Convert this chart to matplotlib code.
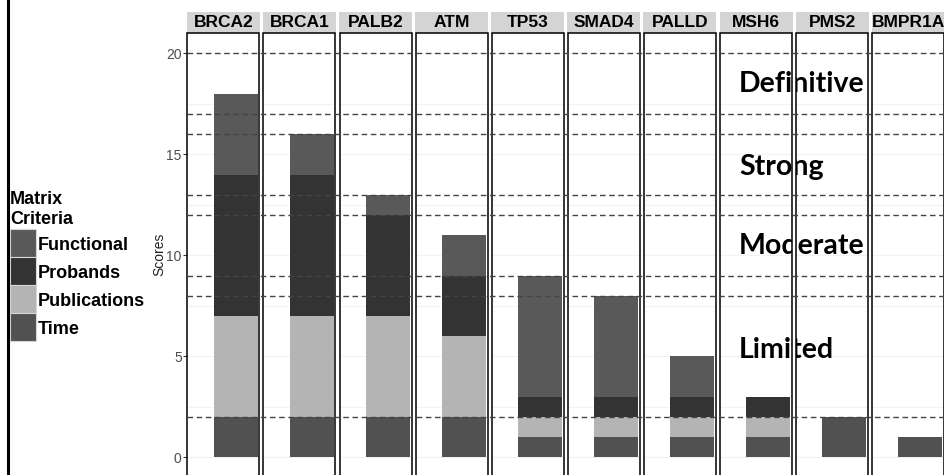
import matplotlib
matplotlib.use("Agg")
import matplotlib.pyplot as plt
from matplotlib.patches import Rectangle
from matplotlib.lines import Line2D
from matplotlib.transforms import blended_transform_factory
import numpy as np

# gene panels and stacked criteria scores (bottom -> top: Time, Publications, Probands, Functional)
GENES = ["BRCA2", "BRCA1", "PALB2", "ATM", "TP53", "SMAD4", "PALLD", "MSH6", "PMS2", "BMPR1A"]
TIME = [2, 2, 2, 2, 1, 1, 1, 1, 2, 1]
PUBLICATIONS = [5, 5, 5, 4, 1, 1, 1, 1, 0, 0]
PROBANDS = [7, 7, 5, 3, 1, 1, 1, 1, 0, 0]
FUNCTIONAL = [4, 2, 1, 2, 6, 5, 2, 0, 0, 0]

LEGEND_ORDER = ["Functional", "Probands", "Publications", "Time"]
COLORS = {"Functional": "#595959", "Probands": "#333333",
          "Publications": "#b4b4b4", "Time": "#515151"}

# classification thresholds (dashed lines) and class labels
CUTS = [2, 8, 9, 12, 13, 16, 17, 20]
CLASSES = ["Definitive", "Strong", "Moderate", "Limited"]
CLASS_Y = [18.1, 14.0, 10.05, 4.9]
YTICKS = [0, 5, 10, 15, 20]

W, H = 944, 475
DPI = 100
fig = plt.figure(figsize=(W / DPI, H / DPI), dpi=DPI)


def fx(px):
    return px / W


def fy(py):
    return 1 - py / H


# panel geometry in pixels
P_LEFT, P_PITCH, P_W = 187.3, 76.1, 72.0
P_TOP, Y0_PX, PX_PER = 33.3, 457.3, 20.2
YMIN, YMAX = -1.5, 21.0
bottom_px = Y0_PX - YMIN * PX_PER

sans = ["Liberation Sans", "DejaVu Sans"]

series = [("Time", TIME), ("Publications", PUBLICATIONS),
          ("Probands", PROBANDS), ("Functional", FUNCTIONAL)]

axes = []
for i, gene in enumerate(GENES):
    left = P_LEFT + P_PITCH * i
    ax = fig.add_axes([fx(left), fy(bottom_px), fx(P_W), (bottom_px - P_TOP) / H])
    ax.set_facecolor("none")
    ax.set_xlim(0, 1)
    ax.set_ylim(YMIN, YMAX)
    base = 0
    for name, vals in series:
        v = vals[i]
        if v > 0:
            ax.bar(0.67, v, bottom=base, width=0.61, color=COLORS[name], linewidth=0, zorder=2)
        base += v
    ax.set_xticks([])
    ax.set_yticks(YTICKS)
    ax.set_yticks(np.arange(0, 21, 2.5), minor=True)
    ax.yaxis.grid(True, which="both", color="#f2f2f2", lw=0.8)
    ax.set_axisbelow(True)
    for s in ax.spines.values():
        s.set_visible(False)
    ax.tick_params(axis="y", which="minor", length=0)
    if i == 0:
        ax.tick_params(axis="y", which="major", length=3, width=0.8, color="#333333",
                       labelcolor="#4d4d4d", labelsize=10, pad=1)
        for lab in ax.get_yticklabels():
            lab.set_family(sans)
    else:
        ax.tick_params(axis="y", which="major", length=0, labelleft=False)
    axes.append(ax)

    # strip header
    fig.add_artist(Rectangle((fx(left - 0.5), fy(32.7)), fx(P_W + 1), (32.7 - 11.7) / H,
                             transform=fig.transFigure, facecolor="#d4d4d4",
                             edgecolor="none", zorder=1))
    fig.text(fx(left + P_W / 2), fy(22.5), gene, ha="center", va="center",
             fontsize=12.5, fontweight="bold", family=sans, zorder=2)

    # white gutter to the right of each panel, then the panel frame
    fig.add_artist(Rectangle((fx(left + P_W), 0), fx(P_PITCH - P_W), fy(P_TOP),
                             transform=fig.transFigure, facecolor="white",
                             edgecolor="none", zorder=4))
    fig.add_artist(Rectangle((fx(left), fy(bottom_px)), fx(P_W), (bottom_px - P_TOP) / H,
                             transform=fig.transFigure, facecolor="none",
                             edgecolor="black", lw=1.1, zorder=4.5))

# y axis title
fig.text(fx(159), fy(254.5), "Scores", rotation=90, ha="center", va="center",
         fontsize=10, color="#222222", family=sans)

# threshold dashed lines across all panels
blend = blended_transform_factory(fig.transFigure, axes[0].transData)
for c in CUTS:
    fig.add_artist(Line2D([fx(P_LEFT), 1.0], [c, c], transform=blend, color="#444444",
                          lw=1.0, ls=(0, (4, 2.6)), zorder=5))

# class labels sit under the gutters and frames
for name, yv in zip(CLASSES, CLASS_Y):
    fig.text(fx(739), yv, name, transform=blend, ha="left", va="baseline",
             fontsize=20.5, fontweight="bold", family=["Lato", "DejaVu Sans"], zorder=3)

# legend
fig.text(fx(10), fy(204), "Matrix", fontsize=13, fontweight="bold", family=sans, va="baseline")
fig.text(fx(10), fy(224.3), "Criteria", fontsize=13, fontweight="bold", family=sans, va="baseline")
key_top, key_h = 229.3, 27.85
for k, name in enumerate(LEGEND_ORDER):
    y_top = key_top + key_h * k
    fig.add_artist(Rectangle((fx(10), fy(y_top + key_h)), fx(25.7), key_h / H,
                             transform=fig.transFigure, facecolor=COLORS[name],
                             edgecolor="#d6d6d6", lw=0.8, zorder=3))
    fig.text(fx(38), fy(y_top + key_h / 2 + 7), name, fontsize=13, fontweight="bold",
             family=sans, va="baseline")

# left frame line
fig.add_artist(Line2D([fx(7.5), fx(7.5)], [0, 1], transform=fig.transFigure,
                      color="black", lw=2.2, zorder=6))

fig.savefig("out.png", dpi=DPI, facecolor="white")
